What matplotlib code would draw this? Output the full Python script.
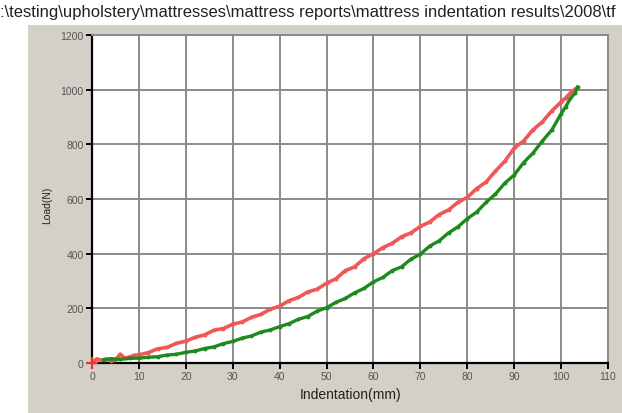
import matplotlib
matplotlib.use('Agg')
from matplotlib import pyplot as plt, patches

TITLE = ':\\testing\\upholstery\\mattresses\\mattress reports\\mattress indentation results\\2008\\tf'

# first sample (red)
red_x = [0, 1, 2, 3, 4, 5, 6, 7, 8, 9, 10, 12, 14, 16, 18, 20, 22, 24, 26, 28,
         30, 32, 34, 36, 38, 40, 42, 44, 46, 48, 50, 52, 54, 56, 58, 60, 62, 64,
         66, 68, 70, 72, 74, 76, 78, 80, 82, 84, 86, 88, 90, 92, 94, 96, 98, 100,
         101, 102, 103]
red_y = [0, 15, 10, 14, 8, 12, 32, 18, 22, 28, 30, 38, 52, 57, 72, 80, 94, 103, 120, 126,
         142, 150, 167, 178, 197, 208, 228, 240, 260, 270, 292, 308, 338, 352, 382, 400, 422, 438,
         462, 476, 500, 516, 543, 560, 588, 606, 638, 662, 702, 738, 786, 812, 853, 882, 922, 955,
         970, 988, 1002]

# second sample (green)
green_x = [2.5, 4, 6, 8, 10, 12, 14, 16, 18, 20, 22, 24, 26, 28, 30, 32, 34, 36, 38,
           40, 42, 44, 46, 48, 50, 52, 54, 56, 58, 60, 62, 64, 66, 68, 70, 72, 74, 76,
           78, 80, 82, 84, 86, 88, 90, 92, 94, 96, 98, 100, 101, 102, 103, 103.5]
green_y = [12, 16, 13, 17, 18, 21, 23, 29, 32, 39, 44, 53, 59, 71, 79, 91, 99, 113, 121,
           133, 144, 160, 170, 190, 202, 222, 236, 257, 273, 297, 313, 338, 352, 380, 398, 428, 447, 476,
           498, 528, 552, 588, 618, 658, 688, 733, 768, 812, 852, 912, 938, 968, 988, 1010]

X_TICKS = list(range(0, 111, 10))
Y_TICKS = list(range(0, 1201, 200))

fig = plt.figure(figsize=(6.22, 4.14), dpi=100)
fig.patch.set_facecolor('white')
fig.patches.append(patches.Rectangle((28 / 622, 0), 1, 1 - 26 / 414, transform=fig.transFigure,
                                     facecolor='#d4d0c8', edgecolor='none', zorder=-5))
fig.text(0, 1 - 12 / 414, TITLE, fontsize=12, family='Liberation Sans', color='#222222',
         va='center', ha='left')

ax = fig.add_axes([92 / 622, 1 - 364 / 414, 516 / 622, 328 / 414])
ax.set_zorder(2)
ax.set_facecolor('white')
ax.set_xlim(0, 110)
ax.set_ylim(0, 1200)
ax.set_xticks(X_TICKS)
ax.set_yticks(Y_TICKS)
ax.grid(True, color='#8a8a8a', linewidth=1.4)
ax.set_axisbelow(True)

ax.plot(red_x, red_y, color='#f05858', linewidth=2.6, marker='o', markersize=2.8,
        markeredgewidth=0, zorder=3)
ax.plot(green_x, green_y, color='#1d8a1d', linewidth=2.4, marker='o', markersize=2.8,
        markeredgewidth=0, zorder=4)
ax.plot([0], [0], marker='+', color='#f03030', markersize=9, markeredgewidth=1.6,
        clip_on=False, zorder=5)

for side in ['top', 'right']:
    ax.spines[side].set_color('#8a8a8a')
    ax.spines[side].set_linewidth(1.4)
for side in ['left', 'bottom']:
    ax.spines[side].set_color('black')
    ax.spines[side].set_linewidth(1.6)

ax.tick_params(direction='out', length=4, width=1.4, color='black',
               labelsize=7.5, labelcolor='#555555', pad=2)
for lbl in ax.get_xticklabels() + ax.get_yticklabels():
    lbl.set_family('Liberation Sans')

fig.text(351 / 622, 1 - 395 / 414, 'Indentation(mm)', fontsize=10, family='Liberation Sans',
         ha='center', va='center', color='#222222')
fig.text(47 / 622, 1 - 205 / 414, 'Load(N)', fontsize=7.5, family='Liberation Sans',
         ha='center', va='center', rotation=90, color='#222222')

fig.savefig('out.png', dpi=100, facecolor=fig.get_facecolor())
